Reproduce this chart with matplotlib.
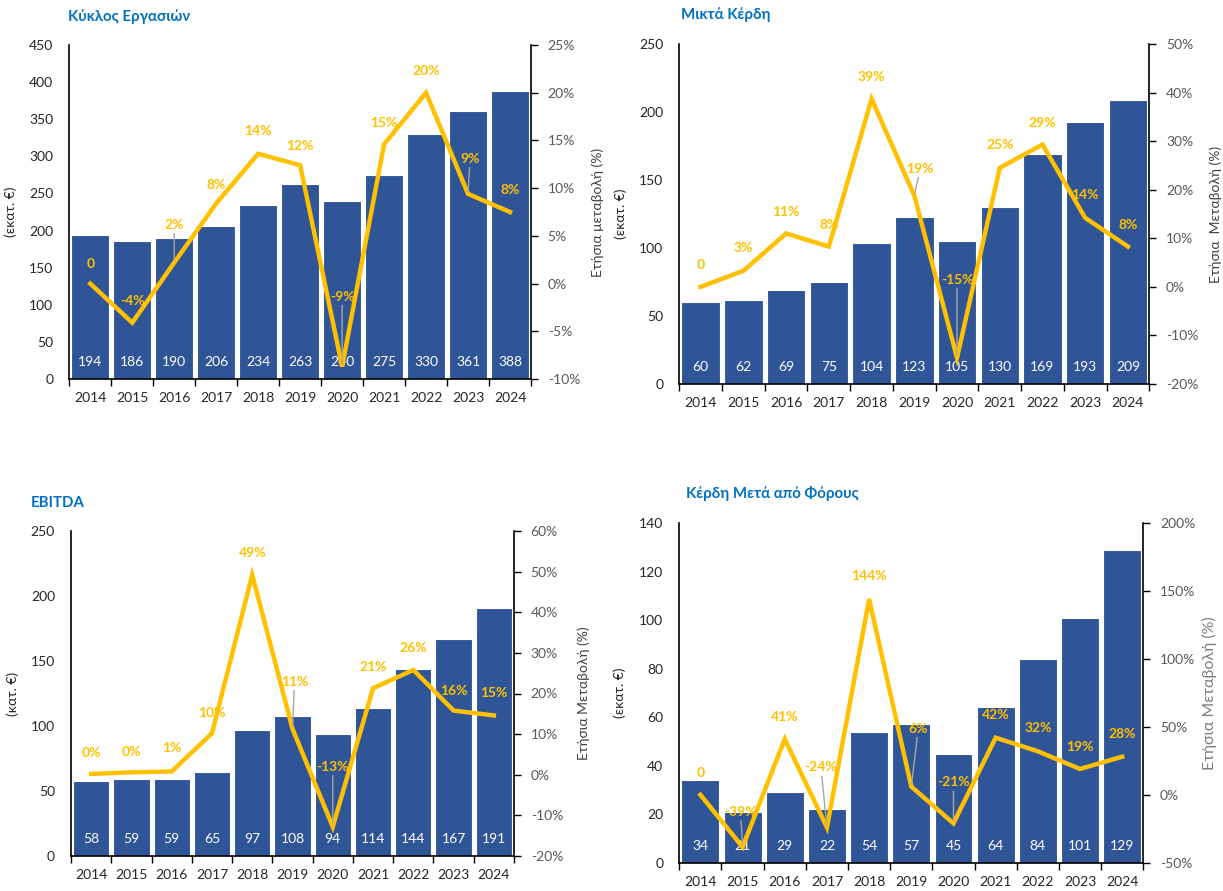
import matplotlib
matplotlib.use('Agg')
import matplotlib.pyplot as plt
import numpy as np

plt.rcParams['font.family'] = ['Lato', 'DejaVu Sans']

years = ['2014', '2015', '2016', '2017', '2018', '2019', '2020', '2021', '2022', '2023', '2024']

rev_values = [194, 186, 190, 206, 234, 263, 240, 275, 330, 361, 388]
rev_growth = [0, -4.1, 2.2, 8.4, 13.6, 12.4, -8.7, 14.6, 20.0, 9.4, 7.5]
rev_labels = ['0', '-4%', '2%', '8%', '14%', '12%', '-9%', '15%', '20%', '9%', '8%']

gp_values = [60, 62, 69, 75, 104, 123, 105, 130, 169, 193, 209]
gp_growth = [0, 3.3, 11.0, 8.3, 38.7, 18.8, -14.6, 24.5, 29.3, 14.2, 8.3]
gp_labels = ['0', '3%', '11%', '8%', '39%', '19%', '-15%', '25%', '29%', '14%', '8%']

ebitda_values = [58, 59, 59, 65, 97, 108, 94, 114, 144, 167, 191]
ebitda_growth = [0.2, 0.6, 0.8, 10.2, 49.2, 11.3, -12.8, 21.3, 25.8, 15.8, 14.6]
ebitda_labels = ['0%', '0%', '1%', '10%', '49%', '11%', '-13%', '21%', '26%', '16%', '15%']

eat_values = [34, 21, 29, 22, 54, 57, 45, 64, 84, 101, 129]
eat_growth = [0, -38.5, 41, -24, 144, 6, -21, 42, 32, 19, 28]
eat_labels = ['0', '-39%', '41%', '-24%', '144%', '6%', '-21%', '42%', '32%', '19%', '28%']

BAR = '#2F5597'
LINE = '#FFC000'
TITLE = '#0070C0'
PX = 0.72  # points per pixel at dpi=100

fig = plt.figure(figsize=(12.23, 8.91), dpi=100)


def panel(rect, title, title_xy, values, growth, labels, ylim, ystep, y2lim, y2step,
          ylabel, y2label, ylab_x, y2lab_x, offsets, leaders, y2size=10, y2color='#404040'):
    ax = fig.add_axes(rect)
    x = np.arange(len(years))
    ax.bar(x, values, width=0.9, color=BAR, edgecolor='white', linewidth=0.8, zorder=2)
    ax.set_xlim(-0.5, len(years) - 0.5)
    ax.set_ylim(*ylim)
    ax.set_yticks(np.arange(ylim[0], ylim[1] + 0.001, ystep))
    ax.set_xticks(x)
    ax.set_xticklabels(years)
    ax.set_xticks(np.arange(-0.5, len(years), 1), minor=True)
    ax.tick_params(axis='x', which='major', length=0, pad=9.5, labelsize=10, labelcolor='#262626')
    ax.tick_params(axis='x', which='minor', length=5, width=1, color='black', direction='out')
    ax.tick_params(axis='y', length=0, pad=11.5, labelsize=10, labelcolor='#262626')
    for s in ['top', 'right']:
        ax.spines[s].set_visible(False)
    for s in ['left', 'bottom']:
        ax.spines[s].set_color('black')
        ax.spines[s].set_linewidth(1.2)
    ax.set_ylabel(ylabel, fontsize=10, color='#262626')
    ax.yaxis.set_label_coords(ylab_x, 0.5)
    for i, v in enumerate(values):
        ax.annotate(str(v), xy=(i, ylim[0]), xytext=(0, 17 * PX), textcoords='offset points',
                    ha='center', va='center', color='white', fontsize=10)

    ax2 = ax.twinx()
    ax2.plot(x, growth, color=LINE, linewidth=3.2, solid_joinstyle='miter', zorder=3)
    ax2.set_ylim(*y2lim)
    ticks2 = np.arange(y2lim[0], y2lim[1] + 0.001, y2step)
    ax2.set_yticks(ticks2)
    ax2.set_yticklabels(['%d%%' % t for t in ticks2])
    ax2.tick_params(axis='y', length=5, width=1, color='black', direction='out', pad=7,
                    labelsize=10, labelcolor='#595959')
    for s in ['top', 'left', 'bottom']:
        ax2.spines[s].set_visible(False)
    ax2.spines['right'].set_color('black')
    ax2.spines['right'].set_linewidth(1.2)
    ax2.set_ylabel(y2label, fontsize=y2size, color=y2color, rotation=90)
    ax2.yaxis.set_label_coords(y2lab_x, 0.5)

    for i, (g, lab) in enumerate(zip(growth, labels)):
        dx, dy = offsets[i]
        kw = {}
        if leaders[i]:
            kw['arrowprops'] = dict(arrowstyle='-', color='#A6A6A6', lw=1.0, shrinkA=0, shrinkB=2)
        ax2.annotate(lab, xy=(i, g), xytext=(dx * PX, dy * PX), textcoords='offset points',
                     ha='center', va='center', color=LINE, fontsize=10, fontweight='bold',
                     zorder=5, **kw)

    fig.text(title_xy[0] / 1223, 1 - title_xy[1] / 891, title, color=TITLE, fontsize=10.8,
             fontweight='bold', ha='left', va='center')


def rect(l, r, t, b):
    return [l / 1223, 1 - b / 891, (r - l) / 1223, (b - t) / 891]


N = False
Y = True

panel(rect(69.3, 531, 45, 379), 'Κύκλος Εργασιών', (68, 17), rev_values, rev_growth, rev_labels,
      (0, 450), 50, (-10, 25), 5, '(εκατ. €)', 'Ετήσια μεταβολή (%)', -0.113, 1.13,
      [(0, 20), (0, 22), (0, 38), (0, 18), (0, 23), (0, 19), (0, 70), (0, 21), (0, 22), (2, 35), (0, 22)],
      [N, N, Y, N, N, N, Y, N, N, Y, N])

panel(rect(679.3, 1149.3, 44, 384), 'Μικτά Κέρδη', (681, 15), gp_values, gp_growth, gp_labels,
      (0, 250), 50, (-20, 50), 10, '(εκατ. €)', 'Ετήσια  Μεταβολή (%)', -0.111, 1.127,
      [(0, 22), (0, 23), (0, 21), (0, 22), (0, 22), (6, 27), (0, 78), (0, 23), (0, 22), (0, 23), (0, 22)],
      [N, N, N, N, N, Y, Y, N, N, N, N])

panel(rect(71, 514, 531, 856), 'EBITDA', (31, 503), ebitda_values, ebitda_growth, ebitda_labels,
      (0, 250), 50, (-20, 60), 10, '(κατ. €)', 'Ετήσια Μεταβολή (%)', -0.117, 1.144,
      [(0, 21), (0, 20), (0, 23), (0, 20), (0, 22), (2, 47), (0, 60), (0, 21), (0, 22), (0, 20), (0, 22)],
      [N, N, N, N, N, Y, Y, N, N, N, N])

panel(rect(679.3, 1143.3, 523, 862.7), 'Κέρδη Μετά από Φόρους', (686, 493), eat_values, eat_growth, eat_labels,
      (0, 140), 20, (-50, 200), 50, '(εκατ. €)', 'Ετήσια Μεταβολή (%)', -0.115, 1.127,
      [(0, 22), (-2, 35), (0, 22), (-6, 60), (0, 23), (7, 58), (0, 41), (0, 23), (0, 23), (0, 22), (0, 23)],
      [N, Y, N, Y, N, Y, Y, N, N, N, N], y2size=11.5, y2color='#7F7F7F')

fig.savefig('out.png', dpi=100)
